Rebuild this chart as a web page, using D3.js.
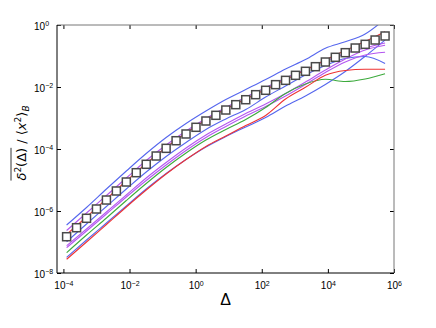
<!DOCTYPE html>
<html>
<head>
<meta charset="utf-8">
<script src="https://cdn.jsdelivr.net/npm/d3@7"></script>
<style>
  body { margin: 0; background: #fff; }
  svg { display: block; }
</style>
</head>
<body>
<svg id="chart"></svg>
<script>
// lag times of the ensemble average (squares)
const deltaSquares = [1.25e-4, 2.5e-4, 5e-4, 1e-3, 2e-3, 4e-3, 8e-3, 1.6e-2, 3.2e-2, 6.4e-2,
  0.128, 0.256, 0.512, 1.024, 2.048, 4.096, 8.192, 16.384, 32.768, 65.536, 131.07, 262.14,
  524.29, 1048.6, 2097.2, 4194.3, 8388.6, 16777, 33554, 67109, 134218, 268435, 536871]
const meanMsd = [1.48e-7, 2.89e-7, 5.82e-7, 1.16e-6, 2.26e-6, 4.42e-6, 8.61e-6, 1.72e-5, 3.21e-5, 5.94e-5,
  1.05e-4, 1.85e-4, 3.05e-4, 5.01e-4, 8.0e-4, 1.22e-3, 1.81e-3, 2.69e-3, 3.89e-3, 5.65e-3,
  7.83e-3, 1.19e-2, 1.64e-2, 2.38e-2, 3.21e-2, 4.52e-2, 6.40e-2, 9.08e-2, 0.128, 0.181,
  0.238, 0.328, 0.442]

// lag times of the single trajectories
const deltaTraj = [1.25e-4, 5e-4, 2e-3, 8e-3, 3.2e-2, 0.128, 0.512, 2.048, 8.192, 32.768,
  131.07, 524.29, 2097.2, 8388.6, 33554, 134218, 536871]
const trajBlue1 = [3.53e-7, 1.30e-6, 5.13e-6, 1.95e-5, 7.16e-5, 2.35e-4, 6.65e-4, 1.68e-3, 3.95e-3, 8.30e-3, 1.75e-2, 3.81e-2, 7.71e-2, 0.177, 0.287, 0.513, 1.56]
const trajBlue2 = [1.02e-7, 3.81e-7, 1.40e-6, 5.13e-6, 1.81e-5, 5.73e-5, 1.62e-4, 4.26e-4, 9.29e-4, 1.88e-3, 4.75e-3, 1.08e-2, 2.44e-2, 4.94e-2, 8.30e-2, 9.64e-2, 5.73e-2]
const trajBlue3 = [3.21e-8, 1.16e-7, 4.10e-7, 1.45e-6, 5.13e-6, 1.62e-5, 4.58e-5, 1.16e-4, 2.53e-4, 5.13e-4, 1.04e-3, 2.44e-3, 5.16e-3, 1.21e-2, 3.16e-2, 9.77e-2, 0.328]
const trajPurple1 = [2.35e-7, 8.61e-7, 3.16e-6, 1.16e-5, 4.26e-5, 1.35e-4, 3.81e-4, 9.64e-4, 2.18e-3, 4.75e-3, 9.64e-3, 1.95e-2, 3.67e-2, 6.90e-2, 0.121, 0.181, 0.262]
const trajPurple2 = [7.60e-8, 2.62e-7, 9.29e-7, 3.28e-6, 1.16e-5, 3.67e-5, 1.08e-4, 2.83e-4, 6.40e-4, 1.40e-3, 2.83e-3, 6.17e-3, 1.45e-2, 3.53e-2, 8.00e-2, 0.156, 0.221]
const trajPurple3 = [6.55e-8, 2.26e-7, 8.00e-7, 2.83e-6, 9.64e-6, 3.05e-5, 8.95e-5, 2.35e-4, 5.32e-4, 1.16e-3, 2.35e-3, 5.13e-3, 1.21e-2, 2.94e-2, 6.40e-2, 0.108, 0.132]
const trajGreen = [4.52e-8, 1.68e-7, 5.94e-7, 2.18e-6, 7.71e-6, 2.53e-5, 7.43e-5, 1.95e-4, 4.26e-4, 8.95e-4, 2.18e-3, 6.17e-3, 1.25e-2, 1.77e-2, 1.50e-2, 1.81e-2, 2.69e-2]
const trajRed1 = [1.75e-7, 6.40e-7, 2.44e-6, 9.29e-6, 3.40e-5, 1.12e-4, 3.28e-4, 8.61e-4, 1.95e-3, 4.10e-3, 8.30e-3, 1.75e-2, 3.53e-2, 7.43e-2, 0.150, 0.294, 0.608]
const trajRed2 = [2.77e-8, 1.00e-7, 3.67e-7, 1.35e-6, 4.75e-6, 1.56e-5, 4.58e-5, 1.21e-4, 2.62e-4, 5.73e-4, 1.21e-3, 4.10e-3, 9.77e-3, 2.38e-2, 3.40e-2, 3.72e-2, 3.72e-2]

const xTicks = [1e-4, 1e-2, 1, 1e2, 1e4, 1e6]
const yTicks = [1e-8, 1e-6, 1e-4, 1e-2, 1]

const width = 436, height = 328
const plotL = 57, plotR = 394, plotT = 25, plotB = 273

const svg = d3.select("#chart").attr("width", width).attr("height", height)
  .style("font-family", "'Liberation Sans', Arial, sans-serif")

const x = d3.scaleLog().domain([6.4e-5, 1e6]).range([plotL, plotR])
const y = d3.scaleLog().domain([1e-8, 1]).range([plotB, plotT])

svg.append("defs").append("clipPath").attr("id", "plotClip")
  .append("rect").attr("x", plotL).attr("y", plotT).attr("width", plotR - plotL).attr("height", plotB - plotT)

const line = d3.line().x(d => x(d[0])).y(d => y(d[1])).curve(d3.curveMonotoneX)

const series = [
  { vals: trajBlue1, color: "#5566ee" },
  { vals: trajBlue2, color: "#5566ee" },
  { vals: trajBlue3, color: "#5566ee" },
  { vals: trajPurple1, color: "#b455f0" },
  { vals: trajPurple2, color: "#b455f0" },
  { vals: trajPurple3, color: "#b455f0" },
  { vals: trajGreen, color: "#3caa3c" },
  { vals: trajRed2, color: "#ee3333" },
  { vals: trajRed1, color: "#ee3333" }
]

const plot = svg.append("g").attr("clip-path", "url(#plotClip)")
plot.selectAll("path.traj")
  .data(series)
  .join("path")
  .attr("class", "traj")
  .attr("fill", "none")
  .attr("stroke", d => d.color)
  .attr("stroke-width", 1.1)
  .attr("d", d => line(deltaTraj.map((t, i) => [t, d.vals[i]])))

//squares for the ensemble mean
const sq = 8
plot.selectAll("rect.mean")
  .data(deltaSquares.map((t, i) => [t, meanMsd[i]]))
  .join("rect")
  .attr("class", "mean")
  .attr("x", d => x(d[0]) - sq / 2)
  .attr("y", d => y(d[1]) - sq / 2)
  .attr("width", sq)
  .attr("height", sq)
  .attr("fill", "white")
  .attr("stroke", "#4a4a4a")
  .attr("stroke-width", 1.5)

//axes, ticks pointing inward
const sup = d => {
  const e = Math.round(Math.log10(d))
  return e < 0 ? "\u2212" + (-e) : "" + e
}
function powLabels(g) {
  g.selectAll(".tick text").each(function (d) {
    const t = d3.select(this).text(null)
    t.append("tspan").text("10")
    t.append("tspan").attr("dy", "-0.5em").attr("font-size", "7px").text(sup(d))
  })
}

svg.append("g").attr("transform", `translate(0,${plotB})`)
  .call(d3.axisBottom(x).tickValues(xTicks).tickSizeInner(-4).tickSizeOuter(0).tickPadding(9).tickFormat(""))
  .call(g => g.select(".domain").remove())
  .call(g => g.selectAll(".tick text").attr("font-size", "10px").attr("fill", "#000"))
  .call(powLabels)

svg.append("g").attr("transform", `translate(0,${plotT})`)
  .call(d3.axisTop(x).tickValues(xTicks).tickSizeInner(-4).tickSizeOuter(0).tickFormat(""))
  .call(g => g.select(".domain").remove())

svg.append("g").attr("transform", `translate(${plotL},0)`)
  .call(d3.axisLeft(y).tickValues(yTicks).tickSizeInner(-4).tickSizeOuter(0).tickFormat(""))
  .call(g => g.select(".domain").remove())
  .call(g => g.selectAll(".tick text").attr("font-size", "10px").attr("fill", "#000")
    .attr("text-anchor", "start").attr("x", 34 - plotL).attr("dy", "0.4em"))
  .call(powLabels)

svg.append("g").attr("transform", `translate(${plotR},0)`)
  .call(d3.axisRight(y).tickValues(yTicks).tickSizeInner(-4).tickSizeOuter(0).tickFormat(""))
  .call(g => g.select(".domain").remove())

svg.selectAll(".tick line").attr("stroke", "#000")

//frame
svg.append("line").attr("x1", plotL).attr("x2", plotR).attr("y1", plotT).attr("y2", plotT).attr("stroke", "#777")
svg.append("line").attr("x1", plotR).attr("x2", plotR).attr("y1", plotT).attr("y2", plotB).attr("stroke", "#777")
svg.append("line").attr("x1", plotL).attr("x2", plotL).attr("y1", plotT).attr("y2", plotB).attr("stroke", "#000")
svg.append("line").attr("x1", plotL).attr("x2", plotR).attr("y1", plotB).attr("y2", plotB).attr("stroke", "#000")

//axis titles
svg.append("text")
  .attr("x", (plotL + plotR) / 2)
  .attr("y", 305)
  .attr("text-anchor", "middle")
  .attr("font-size", "16px")
  .attr("font-weight", "300")
  .text("\u0394")

const yl = svg.append("g").attr("transform", "translate(26,143) rotate(-90)")
const ylt = yl.append("text")
  .attr("text-anchor", "middle")
  .attr("font-size", "13px")
  .style("font-family", "'DejaVu Sans', sans-serif")
ylt.append("tspan").attr("font-style", "italic").text("\u03b4")
ylt.append("tspan").attr("dy", -5).attr("font-size", "9px").text("2")
ylt.append("tspan").attr("dy", 5).text("(\u0394)")
ylt.append("tspan").text(" / \u27e8")
ylt.append("tspan").attr("font-style", "italic").text("x")
ylt.append("tspan").attr("dy", -5).attr("font-size", "9px").text("2")
ylt.append("tspan").attr("dy", 5).text("\u27e9")
ylt.append("tspan").attr("dy", 3).attr("font-size", "9px").attr("font-style", "italic").text("B")

//overline over the time average
const node = ylt.node()
const x0 = node.getStartPositionOfChar(0).x
const x1 = node.getEndPositionOfChar(4).x
yl.append("line").attr("x1", x0).attr("x2", x1).attr("y1", -15).attr("y2", -15)
  .attr("stroke", "#000").attr("stroke-width", 0.8)
</script>
</body>
</html>
